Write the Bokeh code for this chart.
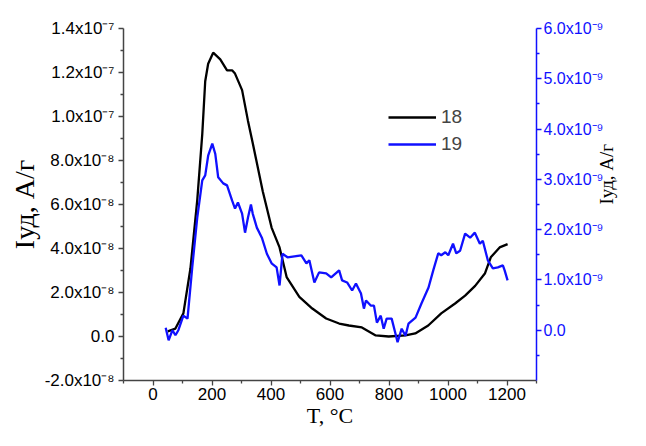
import math
from bokeh.plotting import figure
from bokeh.models import (Range1d, LinearAxis, FixedTicker, Legend, LegendItem)
from bokeh.embed import file_html
from bokeh.resources import INLINE

# ---- data (T in °C; I18 in units of 1e-8 A/g, left axis; I19 in units of 1e-9 A/g, right axis)
T18 = [50, 76, 103, 127, 150, 167, 177, 187, 204, 228, 251, 268, 278, 302, 322, 338, 372,
       402, 429, 453, 496, 540, 587, 631, 664, 708, 755, 799, 856, 889, 933, 977, 1024,
       1058, 1092, 1125, 1145, 1175, 1202]
I18 = [0.23, 0.36, 1.05, 3.1, 6.2, 9.2, 11.6, 12.4, 12.9, 12.6, 12.1, 12.1, 11.95, 11.2, 9.8,
       8.8, 6.6, 4.95, 4.05, 2.7, 1.8, 1.27, 0.82, 0.59, 0.5, 0.41, 0.05, 0.0, 0.05, 0.14,
       0.5, 1.05, 1.5, 1.86, 2.3, 2.86, 3.6, 4.05, 4.2]

T19 = [43, 53, 66, 76, 86, 103, 117, 133, 150, 167, 177, 187, 201, 211, 221, 238, 251, 268,
       278, 288, 302, 312, 322, 332, 338, 352, 369, 386, 402, 419, 429, 439, 456, 503, 520,
       530, 547, 563, 587, 604, 631, 641, 658, 675, 688, 705, 715, 722, 738, 749, 759, 772,
       782, 792, 809, 822, 829, 843, 856, 866, 890, 910, 934, 950, 967, 977, 991, 1001,
       1017, 1028, 1041, 1058, 1075, 1091, 1108, 1118, 1135, 1152, 1169, 1186, 1192, 1202]
I19 = [0.05, -0.2, 0.0, -0.1, 0.0, 0.29, 0.23, 1.25, 2.24, 2.98, 3.08, 3.47, 3.71, 3.51, 3.04,
       2.92, 2.88, 2.58, 2.42, 2.54, 2.32, 1.94, 2.24, 2.50, 2.32, 2.04, 1.84, 1.52, 1.33,
       1.25, 0.89, 1.52, 1.45, 1.49, 1.33, 1.39, 0.95, 1.15, 1.13, 1.05, 1.19, 0.99, 0.95,
       0.79, 0.93, 0.73, 0.43, 0.59, 0.49, 0.49, 0.15, 0.29, 0.03, 0.23, 0.23, -0.07, -0.24,
       0.03, -0.11, 0.13, 0.25, 0.53, 0.85, 1.19, 1.53, 1.49, 1.55, 1.49, 1.72, 1.53, 1.58,
       1.92, 1.84, 1.94, 1.72, 1.78, 1.39, 1.23, 1.25, 1.29, 1.19, 0.99]

x_ticks = [0, 200, 400, 600, 800, 1000, 1200]
x_minor = [-100, 100, 300, 500, 700, 900, 1100, 1300]
left_ticks = [-2, 0, 2, 4, 6, 8, 10, 12, 14]
left_labels = ["-2.0x10⁻⁸", "0.0", "2.0x10⁻⁸", "4.0x10⁻⁸", "6.0x10⁻⁸", "8.0x10⁻⁸",
               "1.0x10⁻⁷", "1.2x10⁻⁷", "1.4x10⁻⁷"]
left_minor = [-1, 1, 3, 5, 7, 9, 11, 13]
right_ticks = [0, 1, 2, 3, 4, 5, 6]
right_labels = ["0.0", "1.0x10⁻⁹", "2.0x10⁻⁹", "3.0x10⁻⁹", "4.0x10⁻⁹", "5.0x10⁻⁹", "6.0x10⁻⁹"]
right_minor = [-0.5, 0.5, 1.5, 2.5, 3.5, 4.5, 5.5]
series_names = ["18", "19"]
x_title = "T, °C"
y_title = "Iуд, А/г"

BLUE = "#1010ff"
SANS = "Liberation Sans"
SERIF = "Liberation Serif"

p = figure(width=630, height=430, x_range=Range1d(-100, 1300), y_range=Range1d(-2, 14),
           output_backend="svg", toolbar_location=None,
           min_border_left=123, min_border_right=92, min_border_top=28, min_border_bottom=50)
p.extra_y_ranges = {"right": Range1d(-1, 6)}
p.grid.visible = False
p.outline_line_color = None
p.background_fill_color = "white"
p.border_fill_color = "white"

def style(ax, color, line_color):
    ax.axis_line_color = line_color
    ax.axis_line_width = 1.5
    ax.major_tick_line_color = line_color
    ax.minor_tick_line_color = line_color
    ax.major_tick_out = 5
    ax.major_tick_in = 0
    ax.minor_tick_out = 3
    ax.minor_tick_in = 0
    ax.major_tick_line_width = 1.3
    ax.minor_tick_line_width = 1.3
    ax.major_label_text_font = SANS
    ax.major_label_text_font_size = "17px"
    ax.major_label_text_color = color
    ax.major_label_standoff = 4
    ax.axis_label_text_font = SERIF
    ax.axis_label_text_font_style = "normal"
    ax.axis_label_text_color = "black"

xa = p.xaxis[0]
xa.ticker = FixedTicker(ticks=x_ticks, minor_ticks=x_minor)
style(xa, "black", "#444444")
xa.major_tick_out = 5
xa.major_label_standoff = 2
xa.axis_label = x_title
xa.axis_label_text_font_size = "22px"
xa.axis_label_standoff = 0

ya = p.yaxis[0]
ya.ticker = FixedTicker(ticks=left_ticks, minor_ticks=left_minor)
ya.major_label_overrides = {t: s for t, s in zip(left_ticks, left_labels)}
style(ya, "black", "#444444")
ya.axis_label = y_title
ya.axis_label_text_font_size = "28px"
ya.axis_label_standoff = 2

ra = LinearAxis(y_range_name="right")
ra.ticker = FixedTicker(ticks=right_ticks, minor_ticks=right_minor)
ra.major_label_overrides = {t: s for t, s in zip(right_ticks, right_labels)}
style(ra, BLUE, BLUE)
ra.major_label_text_font_size = "16px"
ra.major_label_standoff = 2
ra.axis_label = y_title
ra.axis_label_text_font_size = "19px"
ra.axis_label_standoff = 0
if "axis_label_orientation" in LinearAxis.properties():
    ra.axis_label_orientation = math.pi / 2
p.add_layout(ra, "right")

r18 = p.line(T18, I18, line_color="black", line_width=2.3)
r19 = p.line(T19, I19, line_color=BLUE, line_width=2.3, y_range_name="right")

legend = Legend(items=[LegendItem(label=series_names[0], renderers=[r18]),
                       LegendItem(label=series_names[1], renderers=[r19])],
                location=(265, 225), margin=0, padding=0, spacing=5,
                glyph_width=48, glyph_height=20, label_height=20, label_standoff=5,
                label_text_font=SANS, label_text_font_size="19px",
                border_line_color=None, background_fill_alpha=0)
p.add_layout(legend)

open("out.html", "w").write(file_html(p, INLINE))
